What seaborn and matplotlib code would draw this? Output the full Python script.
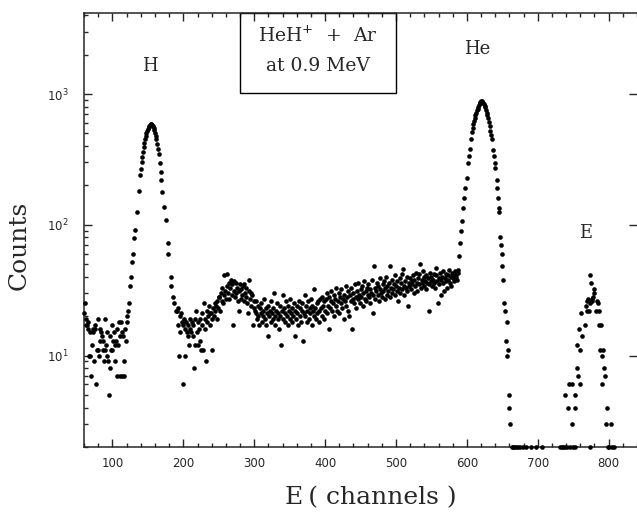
# ===================== LIBRARIES =====================
import numpy as np
import pandas as pd
import matplotlib
matplotlib.use("Agg")
import matplotlib.pyplot as plt
import seaborn as sns
from matplotlib.patches import Rectangle
from matplotlib.ticker import MultipleLocator, LogLocator, NullFormatter

# ===================== DATA =====================
# background stretches: one value per channel, starting at the given channel

# channels 60-120 : background below the H peak
low_start = 60
counts_low = [
    21, 25, 19, 17, 17, 16, 18, 10, 15, 10,
    7, 12, 16, 15, 9, 17, 16, 6, 11, 19,
    11, 10, 13, 16, 15, 14, 11, 13, 9, 19,
    11, 12, 15, 10, 9, 5, 14, 8, 11, 17,
    11, 13, 15, 12, 9, 13, 16, 7, 12, 18,
    7, 14, 18, 7, 15, 14, 7, 9, 16, 13,
    18,
]

# channels 191-260 : valley after the H peak
valley_start = 191
counts_valley = [
    22, 23, 17, 10, 20, 15, 21, 18, 6, 17,
    19, 10, 16, 18, 15, 17, 14, 12, 19, 16,
    15, 18, 14, 17, 8, 12, 19, 22, 15, 12,
    18, 16, 13, 19, 11, 21, 17, 11, 25, 19,
    16, 9, 22, 18, 20, 24, 17, 21, 21, 19,
    11, 23, 20, 25, 22, 24, 19, 26, 23, 28,
    28, 22, 30, 26, 33, 25, 29, 41, 31, 27,
]

# channels 261-300 : small shoulder
shoulder_start = 261
counts_shoulder = [
    34, 42, 30, 36, 27, 33, 38, 29, 35, 17,
    31, 37, 28, 36, 30, 33, 26, 31, 22, 35,
    27, 32, 29, 34, 26, 35, 30, 28, 33, 25,
    21, 31, 38, 27, 30, 24, 29, 17, 26, 23,
]

# channels 301-400 : plateau
plateau_start = 301
counts_plateau = [
    22, 26, 21, 19, 24, 20, 17, 23, 21, 25,
    18, 22, 20, 27, 19, 23, 17, 21, 24, 14,
    20, 22, 18, 26, 21, 19, 23, 30, 20, 17,
    22, 25, 19, 21, 16, 24, 20, 12, 22, 29,
    19, 23, 21, 18, 26, 20, 17, 24, 22, 19,
    27, 21, 18, 23, 20, 25, 14, 22, 19, 24,
    21, 17, 26, 20, 23, 18, 22, 25, 13, 21,
    29, 20, 24, 18, 22, 26, 19, 23, 21, 27,
    17, 24, 22, 20, 32, 23, 19, 25, 21, 26,
    22, 18, 27, 23, 20, 28, 24, 19, 26, 22,
]

# channels 401-588 : slowly rising background
rise_start = 401
counts_rise = [
    27, 21, 30, 24, 16, 28, 23, 26, 31, 22,
    25, 29, 20, 27, 24, 33, 22, 26, 30, 21,
    28, 25, 32, 23, 27, 19, 29, 26, 34, 24,
    28, 31, 22, 20, 29, 26, 33, 16, 27, 30,
    25, 35, 28, 23, 31, 27, 36, 29, 25, 32,
    28, 34, 24, 30, 37, 27, 31, 26, 33, 29,
    35, 28, 25, 32, 30, 38, 21, 29, 48, 33,
    27, 31, 36, 29, 34, 26, 32, 39, 30, 28,
    35, 31, 37, 27, 33, 40, 29, 34, 31, 36,
    28, 48, 33, 30, 38, 32, 35, 29, 41, 34,
    31, 37, 26, 33, 39, 30, 36, 32, 42, 46,
    34, 29, 37, 33, 40, 31, 24, 36, 34, 39,
    32, 37, 35, 41, 30, 38, 34, 43, 36, 31,
    39, 35, 42, 50, 33, 38, 36, 44, 34, 40,
    37, 32, 41, 36, 39, 35, 22, 43, 37, 40,
    34, 38, 42, 36, 33, 41, 47, 37, 25, 39,
    35, 43, 38, 29, 40, 36, 44, 31, 39, 42,
    37, 33, 41, 38, 45, 36, 40, 34, 43, 39,
    41, 37, 44, 40, 42, 38, 45, 43,
]

# peaks: the channels where a dot is visible, and its counts
h_peak_channels = [
    121, 122, 123, 125, 126, 128, 129, 131, 132, 134, 137,
    139, 140, 141, 142, 143, 144, 145, 146, 147, 148, 149, 150, 151, 152,
    153, 154, 155, 156, 157, 158, 159, 160, 161, 162, 163, 164, 165,
    167, 168, 169, 170, 173, 176, 178, 179, 182, 183, 185, 187, 189,
]
h_peak_counts = [
    20, 22, 25, 34, 40, 52, 60, 79, 92, 126, 180,
    240, 265, 300, 330, 360, 395, 425, 455, 480, 505, 525, 545, 560, 572,
    582, 590, 588, 580, 568, 550, 530, 505, 478, 450, 415, 380, 350,
    297, 255, 222, 178, 138, 109, 72, 60, 40, 34, 28, 25, 22,
]

he_peak_channels = [
    589, 590, 592, 593, 595, 596, 598, 600, 602, 603, 604,
    606, 607, 608, 609, 610, 611, 612, 613, 614, 615,
    616, 617, 618, 619, 620, 621, 622, 623, 624, 625,
    626, 627, 628, 629, 630, 631, 632, 633, 634, 635,
    637, 638, 639, 640, 642, 643, 644, 645, 646, 647, 648, 649,
    650, 651, 652, 654, 655, 656, 657, 658, 659, 660, 661,
]
he_peak_counts = [
    58, 72, 89, 106, 134, 160, 191, 228, 297, 334, 380,
    450, 515, 552, 590, 620, 655, 690, 720, 750, 775,
    800, 825, 850, 868, 880, 882, 875, 860, 840, 815,
    790, 760, 720, 690, 655, 610, 570, 520, 485, 455,
    375, 335, 297, 270, 222, 190, 160, 134, 126, 81, 70, 60,
    48, 38, 25, 22, 13, 18, 10, 11, 5, 4, 3,
]

e_peak_channels = [
    739, 743, 744, 748, 749, 752, 753, 755, 756, 757,
    758, 759, 760, 761, 762, 766, 768, 769, 770, 771,
    772, 773, 774, 775, 776, 777, 778, 779, 780, 782,
    784, 785, 786, 787, 788, 789, 790, 791, 792, 793,
    795, 796, 797, 803,
]
e_peak_counts = [
    5, 4, 6, 3, 6, 5, 4, 12, 8, 7,
    16, 6, 11, 21, 14, 17, 24, 26, 22, 27,
    22, 41, 25, 36, 27, 26, 28, 30, 32, 22,
    26, 25, 22, 17, 11, 17, 10, 6, 11, 8,
    7, 3, 4, 3,
]

# dots lying on the bottom axis (lowest plotted count)
floor_channels = [663, 665, 667, 669, 672, 675, 679, 684, 690, 697, 706, 731,
                  734, 736, 738, 741, 746, 750, 753, 774, 799, 801, 805, 808]
floor_counts = [2, 2, 2, 2, 2, 2, 2, 2, 2, 2, 2, 2,
                2, 2, 2, 2, 2, 2, 2, 2, 2, 2, 2, 2]

peak_labels = ["H", "He", "E"]
peak_label_x = [153, 615, 767]
peak_label_y = [1630, 2230, 86]

# ===================== DATAFRAME =====================
partes = []
for start, vals in [(low_start, counts_low), (valley_start, counts_valley),
                    (shoulder_start, counts_shoulder), (plateau_start, counts_plateau),
                    (rise_start, counts_rise)]:
    partes.append(pd.DataFrame({"channel": np.arange(start, start + len(vals)), "counts": vals}))
for chs, vals in [(h_peak_channels, h_peak_counts), (he_peak_channels, he_peak_counts),
                  (e_peak_channels, e_peak_counts), (floor_channels, floor_counts)]:
    partes.append(pd.DataFrame({"channel": chs, "counts": vals}))
df = pd.concat(partes, ignore_index=True)

# ===================== PLOT =====================
sns.set_style("ticks")
plt.rcParams["font.family"] = ["DejaVu Sans"]

fig = plt.figure(figsize=(6.37, 5.16), dpi=100)
ax = fig.add_axes([0.132, 0.134, 0.868, 0.8415])

sns.scatterplot(data=df, x="channel", y="counts", color="black", s=11,
                linewidth=0, ax=ax, legend=False, clip_on=False, zorder=3)

ax.set_yscale("log")
ax.set_xlim(60, 840)
ax.set_ylim(2, 4200)

ax.xaxis.set_major_locator(MultipleLocator(100))
ax.xaxis.set_minor_locator(MultipleLocator(20))
ax.yaxis.set_major_locator(LogLocator(base=10))
ax.yaxis.set_minor_locator(LogLocator(base=10, subs=np.arange(2, 10)))
ax.yaxis.set_minor_formatter(NullFormatter())

ax.tick_params(which="both", direction="in", top=True, right=True, width=1.0)
ax.tick_params(which="major", length=6)
ax.tick_params(which="minor", length=3)
ax.tick_params(axis="y", which="minor", right=False)
ax.tick_params(axis="x", which="major", labelsize=8.5, pad=7)
ax.tick_params(axis="y", which="major", labelsize=8.5, pad=11)
for sp in ax.spines.values():
    sp.set_linewidth(1.1)
    sp.set_visible(True)
ax.spines["right"].set_visible(False)

ax.set_xlabel("E\u2009( channels )", family="DejaVu Serif", fontsize=18)
ax.set_ylabel("Counts", family="DejaVu Serif", fontsize=18)
ax.xaxis.set_label_coords(0.518, -0.09)
ax.yaxis.set_label_coords(-0.096, 0.465)

for lab, lx, ly in zip(peak_labels, peak_label_x, peak_label_y):
    ax.text(lx, ly, lab, family="DejaVu Serif", fontsize=13, ha="center", va="center")

ax.add_patch(Rectangle((0.2813, 0.8158), 0.2834, 0.1842, transform=ax.transAxes,
                       fill=False, edgecolor="black", linewidth=1.0, clip_on=False))
ax.text(0.4235, 0.946, "HeH$^{+}$  +  Ar", transform=ax.transAxes,
        family="DejaVu Serif", fontsize=13.5, ha="center", va="center")
ax.text(0.4235, 0.877, "at 0.9 MeV", transform=ax.transAxes,
        family="DejaVu Serif", fontsize=13.5, ha="center", va="center")

fig.savefig("out.png", dpi=100)
